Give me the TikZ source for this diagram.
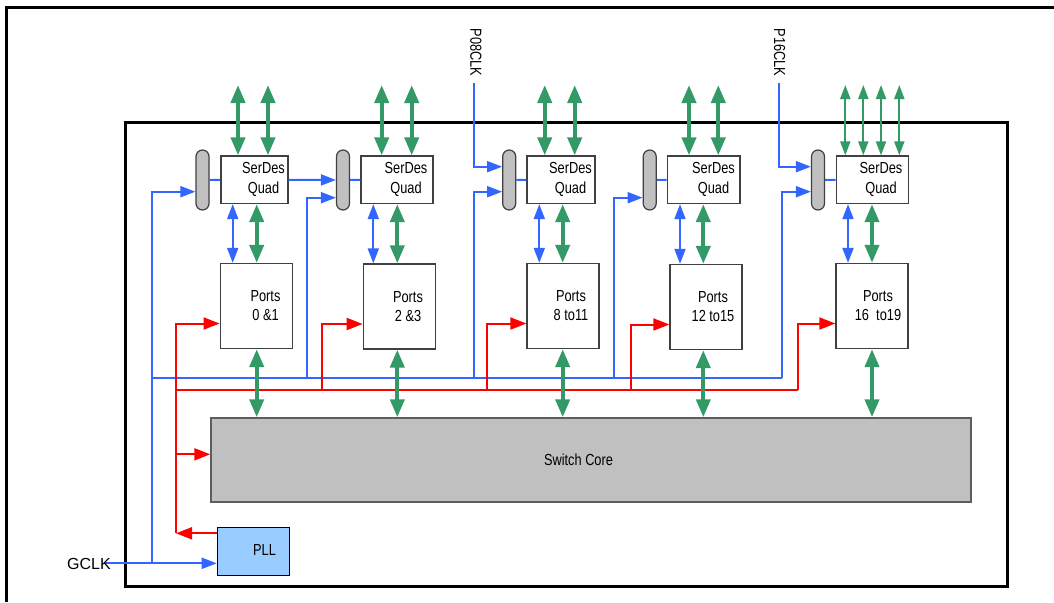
\documentclass[tikz,border=0pt]{standalone}
\usepackage{fontspec}
\setmainfont{Liberation Sans}
\newfontfamily\narrowfont[FakeStretch=0.8]{Liberation Sans}
\usetikzlibrary{arrows.meta,calc}
\definecolor{cgreen}{RGB}{51,153,102}
\definecolor{cblue}{RGB}{51,102,255}
\definecolor{cred}{RGB}{255,0,0}
\definecolor{cgray}{RGB}{192,192,192}
\definecolor{cpll}{RGB}{153,204,255}
\definecolor{cedge}{RGB}{64,64,64}
\begin{document}
\begin{tikzpicture}[x=1pt,y=-1pt,
  lbl/.style={font=\narrowfont\fontsize{16}{19.2}\selectfont, align=center, inner sep=0pt},
  sdbox/.style={draw=cedge, line width=1.3pt, fill=white, minimum height=47.5pt, inner sep=0pt},
  ptbox/.style={draw=cedge, line width=1.3pt, fill=white, minimum width=72pt, minimum height=85pt, inner sep=0pt},
  pill/.style={draw=cedge, line width=1.2pt, fill=cgray, rounded corners=6.5pt, minimum width=13pt, minimum height=60pt, inner sep=0pt},
  bline/.style={draw=cblue, line width=2pt},
  barrow/.style={bline, -{Triangle[length=15pt,width=11pt]}},
  bdarrow/.style={bline, {Triangle[length=15pt,width=11pt]}-{Triangle[length=15pt,width=11pt]}},
  rline/.style={draw=cred, line width=2pt},
  rarrow/.style={rline, -{Triangle[length=16pt,width=12pt]}},
  gthick/.style={draw=cgreen, line width=4pt, {Triangle[length=18pt,width=14pt]}-{Triangle[length=18pt,width=14pt]}},
  gthin/.style={draw=cgreen, line width=2pt, {Triangle[length=14pt,width=10pt]}-{Triangle[length=14pt,width=10pt]}},
]
\useasboundingbox (0,0) rectangle (1054,602);
% frames
\draw[line width=2.5pt] (6.5,602) -- (6.5,7.5) -- (1054,7.5);
\draw[line width=3pt] (125,122) rectangle (1007,586);

% coordinates
\coordinate (gsrc) at (104,563.3);
\coordinate (bv0) at (151.7,563.3);
\coordinate (bA) at (151.7,378);
\coordinate (bB) at (307,378);
\coordinate (bC) at (473.5,378);
\coordinate (bD) at (614.3,378);
\coordinate (bE) at (781.7,378);
\coordinate (p08s) at (474,83.3);
\coordinate (p16s) at (779.3,83.3);
\coordinate (rA) at (176,533.3);
\coordinate (rB) at (176,390);
\coordinate (rC) at (321.7,390);
\coordinate (rD) at (486.7,390);
\coordinate (rE) at (630.7,390);
\coordinate (rF) at (798.3,390);
\coordinate (rSw) at (176,454.3);

% nodes
\node[sdbox, minimum width=67pt] (sd1) at (254.5,179.75) {};
\node[sdbox, minimum width=72pt] (sd2) at (397,179.75) {};
\node[sdbox, minimum width=68pt] (sd3) at (561,179.75) {};
\node[sdbox, minimum width=72.7pt] (sd4) at (703.7,179.75) {};
\node[sdbox, minimum width=72pt] (sd5) at (872.2,179.75) {};

\node[pill] (pl1) at (202.5,180) {};
\node[pill] (pl2) at (343,180) {};
\node[pill] (pl3) at (509.2,180) {};
\node[pill] (pl4) at (649.7,180) {};
\node[pill] (pl5) at (818,180) {};

\node[ptbox] (pt1) at (256.2,306) {};
\node[ptbox] (pt2) at (399.3,306.5) {};
\node[ptbox] (pt3) at (563,306) {};
\node[ptbox] (pt4) at (706,307) {};
\node[ptbox] (pt5) at (872,306) {};

\node[draw=cedge!85, line width=1.5pt, fill=cgray, minimum width=760pt, minimum height=84pt, inner sep=0pt] (sw) at (591,460) {};
\node[draw=black, line width=1.2pt, fill=cpll, minimum width=72.4pt, minimum height=48pt, inner sep=0pt] (pll) at (253.5,551.3) {};

% blue clock network
\draw[barrow] (gsrc) -- (gsrc -| pll.west);
\draw[barrow] (bv0) |- ([yshift=-11.7pt]pl1.west);
\draw[bline] (bA) -- (bE);
\draw[barrow] (bB) |- ([yshift=-17.7pt]pl2.west);
\draw[barrow] (bC) |- ([yshift=-11.7pt]pl3.west);
\draw[barrow] (bD) |- ([yshift=-17.7pt]pl4.west);
\draw[barrow] (bE) |- ([yshift=-11.7pt]pl5.west);
\draw[barrow] (p08s) |- ([yshift=13.3pt]pl3.west);
\draw[barrow] (p16s) |- ([yshift=13.3pt]pl5.west);
\draw[barrow] (sd1.east) -- (pl2.west);
\foreach \i in {1,...,5} { \draw[bline] (pl\i.east) -- (sd\i.west); }

% red network
\draw[rarrow] ([yshift=18pt]pll.west) -- (rA);
\draw[rarrow] (rA) |- ([yshift=-17.5pt]pt1.west);
\draw[rline] (rB) -- (rF);
\draw[rarrow] (rSw) -- (rSw -| sw.west);
\draw[rarrow] (rC) |- ([yshift=-17.5pt]pt2.west);
\draw[rarrow] (rD) |- ([yshift=-17.5pt]pt3.west);
\draw[rarrow] (rE) |- ([yshift=-17.5pt]pt4.west);
\draw[rarrow] (rF) |- ([yshift=-17.5pt]pt5.west);

% blue SerDes-Ports arrows
\foreach \i/\x in {1/232.7,2/373.3,3/539.3,4/680,5/848} {
  \coordinate (bx\i) at (\x,0);
  \draw[bdarrow] (bx\i |- sd\i.south) -- (bx\i |- pt\i.north);
}
% green SerDes-Ports and Ports-Switch arrows
\foreach \i/\x in {1/256.7,2/397.3,3/562.7,4/703.3,5/872} {
  \coordinate (gx\i) at (\x,0);
  \draw[gthick] (gx\i |- sd\i.south) -- (gx\i |- pt\i.north);
  \draw[gthick] (gx\i |- pt\i.south) -- (gx\i |- sw.north);
}
% green top arrows
\foreach \i/\xa/\xb in {1/238/268,2/381.7/411.7,3/544.7/574.7,4/689/718.3} {
  \coordinate (ga\i) at (\xa,85);
  \coordinate (gb\i) at (\xb,85);
  \draw[gthick] (ga\i) -- (ga\i |- sd\i.north);
  \draw[gthick] (gb\i) -- (gb\i |- sd\i.north);
}
\foreach \j/\x in {1/845.3,2/863.3,3/881,4/899.3} {
  \coordinate (gt\j) at (\x,85);
  \draw[gthin] (gt\j) -- (gt\j |- sd5.north);
}

% texts
\node[lbl] (sdt1) at (263.5,179.5) {SerDes\\Quad};
\node[lbl] (sdt2) at (406,179.5) {SerDes\\Quad};
\node[lbl] (sdt3) at (570.5,179.5) {SerDes\\Quad};
\node[lbl] (sdt4) at (713.5,179.5) {SerDes\\Quad};
\node[lbl] (sdt5) at (881,179.5) {SerDes\\Quad};
\node[lbl] (ptt1) at (265.5,305.5) {Ports\\0 \&1};
\node[lbl] (ptt2) at (408,306.5) {Ports\\2 \&3};
\node[lbl] (ptt3) at (571,305.5) {Ports\\8 to11};
\node[lbl] (ptt4) at (713,306.5) {Ports\\12 to15};
\node[lbl] (ptt5) at (878,305.5) {Ports\\16\ \ to19};
\node[lbl] (swt) at (578.5,460) {Switch Core};
\node[lbl] (pllt) at (264.5,550) {PLL};
\node[font=\fontsize{16}{19.2}\selectfont, inner sep=0pt] (gclk) at (89,564.2) {GCLK};
\node[lbl, rotate=-90] (p08) at (476,52.5) {P08CLK};
\node[lbl, rotate=-90] (p16) at (779.7,52.5) {P16CLK};
\end{tikzpicture}
\end{document}
